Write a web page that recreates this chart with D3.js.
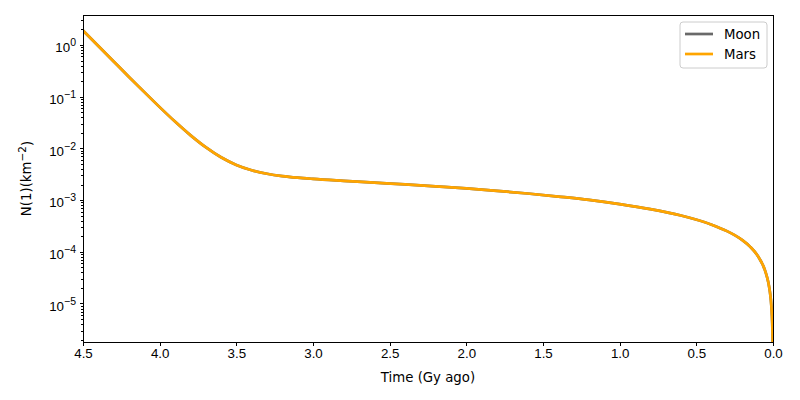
<!DOCTYPE html>
<html>
<head>
<meta charset="utf-8">
<script src="https://cdn.jsdelivr.net/npm/d3@7"></script>
<style>
  body { margin: 0; background: #fff; }
  svg { font-family: "DejaVu Sans", sans-serif; }
  .axis path, .axis line { stroke: #000; stroke-width: 1; shape-rendering: crispEdges; }
  .axis text { font-size: 13.3px; fill: #000; }
</style>
</head>
<body>
<svg id="chart" width="800" height="400"></svg>
<script>
// time (Gy ago) and cumulative crater density N(1)
const timeGy = [4.5, 4.4, 4.3, 4.2, 4.1, 4.0, 3.9, 3.8, 3.7, 3.6, 3.5, 3.4, 3.3, 3.2, 3.1, 3.0,
  2.8, 2.6, 2.4, 2.2, 2.0, 1.8, 1.6, 1.4, 1.2, 1.0, 0.8, 0.6, 0.4, 0.3, 0.25, 0.2, 0.15, 0.1,
  0.05, 0.03, 0.02, 0.01, 0.005, 0.002];
const moonN = [1.905, 0.954, 0.479, 0.241, 0.1223, 0.0628, 0.033, 0.01805, 0.01054, 0.00673,
  0.00479, 0.00378, 0.00323, 0.00291, 0.00271, 0.00257, 0.00236, 0.00218, 0.00201, 0.00184,
  0.00168, 0.00151, 0.00134, 0.00117, 0.00101, 0.000838, 0.00067, 0.000503, 0.000335,
  0.000251, 0.00021, 0.000168, 0.000126, 0.0000838, 0.0000419, 0.0000251, 0.0000168,
  0.00000838, 0.00000419, 0.00000168];
const marsN = moonN.slice();
const seriesNames = ['Moon', 'Mars'];
const seriesColors = ['#696969', '#ffa500'];
const xTicks = [4.5, 4.0, 3.5, 3.0, 2.5, 2.0, 1.5, 1.0, 0.5, 0.0];
const yExps = [-5, -4, -3, -2, -1, 0];

const svg = d3.select('#chart');
const margin = { top: 15, right: 27, bottom: 58, left: 83 };
const width = 800, height = 400;

const x = d3.scaleLinear()
  .domain([4.5, 0])
  .range([margin.left, width - margin.right]);

const y = d3.scaleLog()
  .domain([1.8e-6, 3.8])
  .range([height - margin.bottom, margin.top]);

// minor ticks for log axis
let minor = [];
for (let e = -6; e <= 0; e++) {
  for (let m = 2; m <= 9; m++) {
    const v = m * Math.pow(10, e);
    if (v >= y.domain()[0] && v <= y.domain()[1]) minor.push(v);
  }
}

svg.append('defs').append('clipPath').attr('id', 'clip')
  .append('rect')
  .attr('x', margin.left).attr('y', margin.top)
  .attr('width', width - margin.left - margin.right)
  .attr('height', height - margin.top - margin.bottom);

const line = d3.line()
  .x(d => x(d.t))
  .y(d => y(d.n))
  .curve(d3.curveMonotoneX);

const series = [moonN, marsN].map((vals, i) => ({
  name: seriesNames[i],
  color: seriesColors[i],
  points: timeGy.map((t, j) => ({ t: t, n: vals[j] }))
}));

const g = svg.append('g').attr('clip-path', 'url(#clip)');
series.forEach(s => {
  g.append('path')
    .datum(s.points)
    .attr('fill', 'none')
    .attr('stroke', s.color)
    .attr('stroke-width', 2.7)
    .attr('d', line);
  // last point runs down to zero, off the bottom
  g.append('line')
    .attr('x1', x(timeGy[timeGy.length - 1])).attr('y1', y(s.points[s.points.length - 1].n))
    .attr('x2', x(0)).attr('y2', height)
    .attr('stroke', s.color).attr('stroke-width', 2.7);
});

// x axis
svg.append('g')
  .classed('x axis', true)
  .attr('transform', `translate(0,${height - margin.bottom})`)
  .call(d3.axisBottom(x).tickValues(xTicks).tickFormat(d3.format('.1f')).tickSize(3.5).tickPadding(3.5))
  .call(a => a.select('.domain').remove());

// y axis minor
svg.append('g')
  .classed('y axis', true)
  .attr('transform', `translate(${margin.left},0)`)
  .call(d3.axisLeft(y).tickValues(minor).tickFormat('').tickSize(2))
  .call(a => a.select('.domain').remove());

// y axis major
const yAxis = svg.append('g')
  .classed('y axis', true)
  .attr('transform', `translate(${margin.left},0)`)
  .call(d3.axisLeft(y).tickValues(yExps.map(e => Math.pow(10, e))).tickFormat('').tickSize(3.5))
  .call(a => a.select('.domain').remove());

yAxis.selectAll('.tick').each(function(d) {
  const e = Math.round(Math.log10(d));
  const t = d3.select(this).append('text')
    .attr('x', -7)
    .attr('dy', '0.5em')
    .attr('text-anchor', 'end')
    .attr('fill', '#000');
  t.append('tspan').text('10');
  t.append('tspan').attr('dy', '-0.55em').attr('font-size', '10.5px')
    .text(e < 0 ? '\u2212' + Math.abs(e) : String(e));
});

// frame
svg.append('rect')
  .attr('x', margin.left).attr('y', margin.top)
  .attr('width', width - margin.left - margin.right)
  .attr('height', height - margin.top - margin.bottom)
  .attr('fill', 'none').attr('stroke', '#000').attr('stroke-width', 1)
  .attr('shape-rendering', 'crispEdges');

// labels
svg.append('text')
  .attr('x', (margin.left + width - margin.right) / 2)
  .attr('y', 382)
  .attr('text-anchor', 'middle')
  .attr('font-size', '13.3px')
  .text('Time (Gy ago)');

const yl = svg.append('text')
  .attr('transform', `translate(31,${(margin.top + height - margin.bottom) / 2}) rotate(-90)`)
  .attr('text-anchor', 'middle')
  .attr('font-size', '13.3px');
yl.append('tspan').text('N(1)(km');
yl.append('tspan').attr('dy', '-0.5em').attr('font-size', '10.5px').text('\u22122');
yl.append('tspan').attr('dy', '0.5em').text(')');

// legend
const lg = svg.append('g').attr('transform', 'translate(680,22)');
lg.append('rect')
  .attr('width', 87).attr('height', 46).attr('rx', 3)
  .attr('fill', '#fff').attr('fill-opacity', 0.8)
  .attr('stroke', '#ccc').attr('stroke-width', 1);
series.forEach((s, i) => {
  lg.append('line')
    .attr('x1', 5).attr('x2', 33)
    .attr('y1', 12 + i * 20).attr('y2', 12 + i * 20)
    .attr('stroke', s.color).attr('stroke-width', 2.7);
  lg.append('text')
    .attr('x', 44).attr('y', 12 + i * 20).attr('dy', '0.35em')
    .attr('font-size', '13.3px')
    .text(s.name);
});
</script>
</body>
</html>
